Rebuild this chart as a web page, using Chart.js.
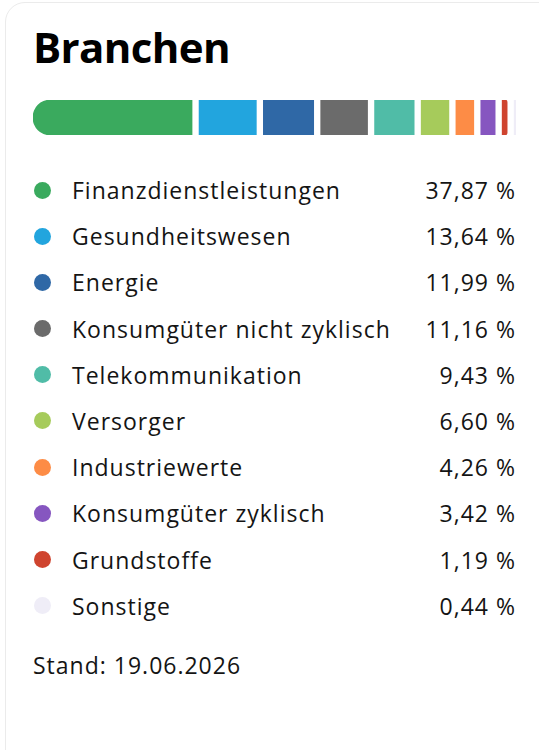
<!DOCTYPE html>
<html lang="de">
<head>
<meta charset="utf-8">
<title>Branchen</title>
<script src="https://cdn.jsdelivr.net/npm/chart.js@4.4.1/dist/chart.umd.min.js"></script>
<style>
    html, body {
        margin: 0;
        padding: 0;
        background: #ffffff;
        width: 539px;
        height: 750px;
        overflow: hidden;
        font-family: "Open Sans", Lato, sans-serif;
        color: #141414;
    }
    .card {
        position: absolute;
        left: 5px;
        top: 2px;
        width: 600px;
        height: 800px;
        border: 1px solid #ebebeb;
        border-radius: 20px;
        background: #ffffff;
    }
    h1 {
        position: absolute;
        left: 33px;
        top: 20px;
        margin: 0;
        font-size: 42px;
        font-weight: 700;
        letter-spacing: -0.6px;
        line-height: 54px;
        color: #000;
    }
    .bar-wrap {
        position: absolute;
        left: 33px;
        top: 100px;
        width: 483px;
        height: 35px;
    }
    .legend {
        position: absolute;
        left: 0;
        top: 167px;
        width: 539px;
    }
    .row {
        position: relative;
        height: 46.2px;
        font-size: 23px;
        font-weight: 500;
        letter-spacing: 1px;
    }
    .row .dot {
        position: absolute;
        left: 34px;
        top: 14.5px;
        width: 17px;
        height: 17px;
        border-radius: 50%;
    }
    .row .label {
        position: absolute;
        left: 72px;
        top: 0;
        line-height: 46.2px;
    }
    .row .value {
        position: absolute;
        right: 23px;
        top: 0;
        line-height: 46.2px;
    }
    .stand {
        position: absolute;
        left: 33px;
        top: 649px;
        font-size: 23px;
        font-weight: 500;
        letter-spacing: 1px;
        line-height: 32px;
    }
</style>
</head>
<body>
<div class="card"></div>
<h1>Branchen</h1>
<div class="bar-wrap"><canvas id="sectorBar"></canvas></div>
<div class="legend" id="legend"></div>
<div class="stand" id="stand"></div>

<script>
// Sector weights (in %)
const sectors = [
    'Finanzdienstleistungen',
    'Gesundheitswesen',
    'Energie',
    'Konsumgüter nicht zyklisch',
    'Telekommunikation',
    'Versorger',
    'Industriewerte',
    'Konsumgüter zyklisch',
    'Grundstoffe',
    'Sonstige'
];
const weights = [37.87, 13.64, 11.99, 11.16, 9.43, 6.60, 4.26, 3.42, 1.19, 0.44];
const colors = [
    '#3aaa5e', '#22a5de', '#2f68a6', '#6b6b6b', '#50bca7',
    '#a6cb5b', '#fd8c46', '#8656c0', '#cf442f', '#efedf7'
];
const standDate = '19.06.2026';

const GAP = 7;      // white space between segments
const RADIUS = 18;

document.addEventListener('DOMContentLoaded', function() {
    buildLegend();
    initializeBar();
});

function formatPercent(v) {
    return v.toFixed(2).replace('.', ',') + ' %';
}

function buildLegend() {
    const legend = document.getElementById('legend');
    sectors.forEach((name, i) => {
        const row = document.createElement('div');
        row.className = 'row';
        row.innerHTML = `
            <span class="dot" style="background:${colors[i]}"></span>
            <span class="label">${name}</span>
            <span class="value">${formatPercent(weights[i])}</span>
        `;
        legend.appendChild(row);
    });
    document.getElementById('stand').textContent = 'Stand: ' + standDate;
}

// shift every stacked segment to the right so the segments sit apart
const gapPlugin = {
    id: 'segmentGaps',
    afterDatasetsUpdate(chart) {
        chart.data.datasets.forEach((ds, i) => {
            const meta = chart.getDatasetMeta(i);
            meta.data.forEach(el => {
                el.x += i * GAP;
                el.base += i * GAP;
            });
        });
    }
};

function initializeBar() {
    const last = weights.length - 1;
    const datasets = sectors.map((name, i) => {
        let radius = 0;
        if (i === 0) {
            radius = { topLeft: RADIUS, bottomLeft: RADIUS, topRight: 0, bottomRight: 0 };
        } else if (i === last - 1 || i === last) {
            radius = { topLeft: 0, bottomLeft: 0, topRight: RADIUS, bottomRight: RADIUS };
        }
        return {
            label: name,
            data: [weights[i]],
            backgroundColor: colors[i],
            borderWidth: 0,
            borderSkipped: false,
            borderRadius: radius,
            barPercentage: 1,
            categoryPercentage: 1,
            clip: false
        };
    });

    const ctx = document.getElementById('sectorBar').getContext('2d');
    new Chart(ctx, {
        type: 'bar',
        data: {
            labels: ['Branchen'],
            datasets: datasets
        },
        options: {
            indexAxis: 'y',
            responsive: true,
            maintainAspectRatio: false,
            animation: false,
            layout: {
                padding: { left: 0, top: 0, bottom: 0, right: GAP * (sectors.length - 1) }
            },
            plugins: {
                legend: { display: false },
                tooltip: { enabled: false }
            },
            scales: {
                x: {
                    stacked: true,
                    min: 0,
                    max: 100,
                    display: false
                },
                y: {
                    stacked: true,
                    display: false
                }
            }
        },
        plugins: [gapPlugin]
    });
}
</script>
</body>
</html>
